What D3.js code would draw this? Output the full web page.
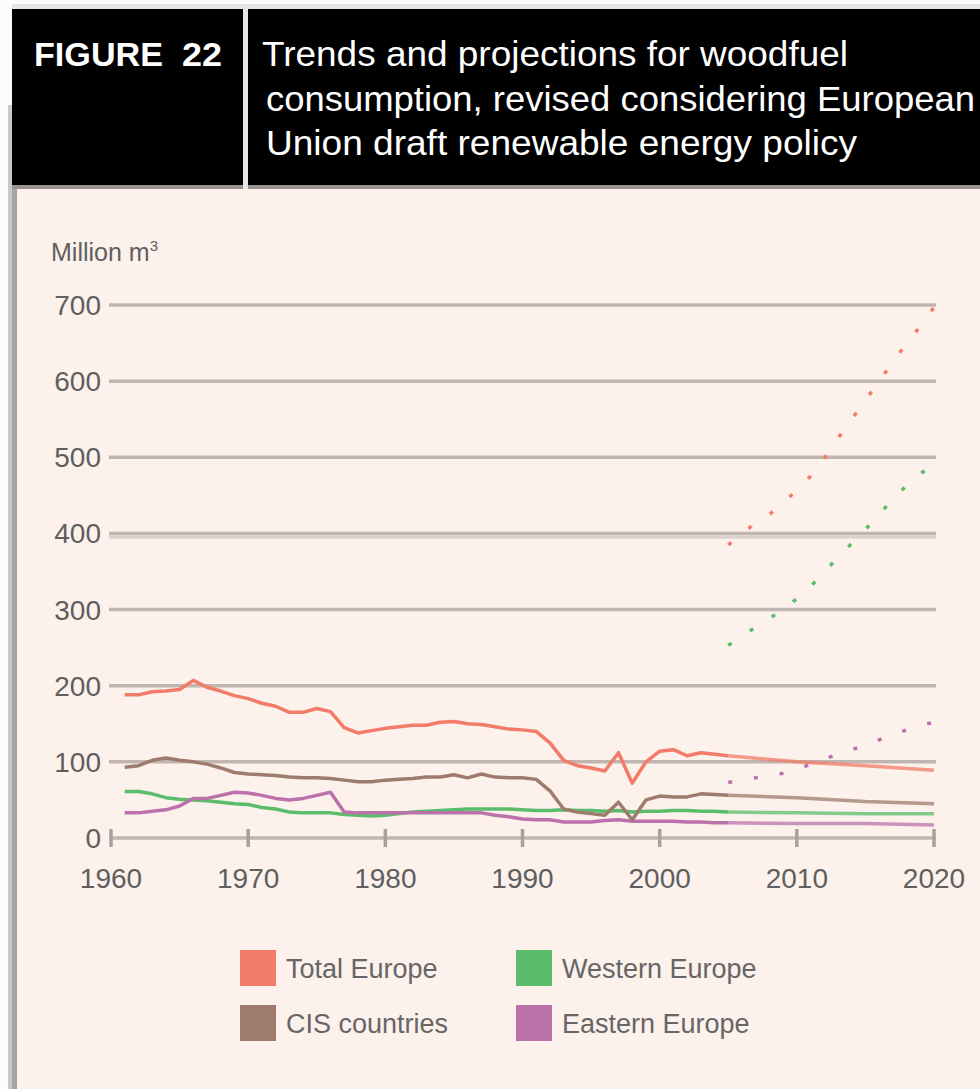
<!DOCTYPE html>
<html>
<head>
<meta charset="utf-8">
<script src="https://cdn.jsdelivr.net/npm/d3@7"></script>
<style>
  body { margin: 0; background: #fbfbfb; }
  svg { display: block; font-family: "Liberation Sans", Arial, sans-serif; }
</style>
</head>
<body>
<div class="chart"></div>
<script>
var svgWidth = 980;
var svgHeight = 1089;

// historical series, one value per year
var histYears = [1961,1962,1963,1964,1965,1966,1967,1968,1969,1970,
  1971,1972,1973,1974,1975,1976,1977,1978,1979,1980,
  1981,1982,1983,1984,1985,1986,1987,1988,1989,1990,
  1991,1992,1993,1994,1995,1996,1997,1998,1999,2000,
  2001,2002,2003,2004,2005];
var totalEurope = [188,188,192,193,195,207,198,193,187,183,
  177,173,165,165,170,166,145,138,141,144,
  146,148,148,152,153,150,149,146,143,142,
  140,125,102,95,92,88,112,72,100,114,
  116,108,112,110,108];
var cisCountries = [93,95,102,105,102,100,97,92,86,84,
  83,82,80,79,79,78,76,74,74,76,
  77,78,80,80,83,79,84,80,79,79,
  77,62,38,34,32,30,47,24,50,55,
  54,54,58,57,56];
var westernEurope = [61,61,58,53,51,50,49,47,45,44,
  40,38,34,33,33,33,31,30,29,30,
  32,34,35,36,37,38,38,38,38,37,
  36,36,37,36,36,35,36,34,35,35,
  36,36,35,35,34];
var easternEurope = [33,33,35,37,42,52,52,56,60,59,
  56,52,50,52,56,60,34,33,33,33,
  33,33,33,33,33,33,33,30,28,25,
  24,24,21,21,21,23,24,22,22,22,
  22,21,21,20,20];

// projections, baseline (solid)
var projYears = [2005, 2010, 2015, 2020];
var totalEuropeProj = [108, 100, 95, 89];
var cisCountriesProj = [56, 53, 48, 45];
var westernEuropeProj = [34, 33, 32, 32];
var easternEuropeProj = [20, 19, 19, 17];

// projections with the EU renewable energy policy (dotted)
var policyYears = [2005,2006,2007,2008,2009,2010,2011,2012,2013,2014,2015,2016,2017,2018,2019,2020];
var totalEuropePolicy = [385,398,415,425,440,457,475,498,525,550,575,600,625,650,672,697];
var westernEuropePolicy = [253,265,277,288,301,314,330,350,368,387,405,425,445,463,478,492];
var easternEuropePolicy = [73,76,79,82,85,90,97,104,110,116,122,129,136,142,148,152];

var yTicks = [0, 100, 200, 300, 400, 500, 600, 700];
var xTicks = [1960, 1970, 1980, 1990, 2000, 2010, 2020];

var legendNames = ["Total Europe", "Western Europe", "CIS countries", "Eastern Europe"];
var colors = {
  "Total Europe": "#f27b69",
  "Western Europe": "#5bbd6b",
  "CIS countries": "#9e7b6d",
  "Eastern Europe": "#bb72ab"
};

var svg = d3.select(".chart")
  .append("svg")
  .attr("width", svgWidth)
  .attr("height", svgHeight);

// frame and header
svg.append("rect").attr("x", 12).attr("y", 4).attr("width", 968).attr("height", 6).attr("fill", "#e6e6e6");
svg.append("rect").attr("x", 8).attr("y", 105).attr("width", 4).attr("height", 984).attr("fill", "#c9c9c9");
svg.append("rect").attr("x", 12).attr("y", 185).attr("width", 5).attr("height", 904).attr("fill", "#aaa29e");
svg.append("rect").attr("x", 17).attr("y", 189).attr("width", 963).attr("height", 900).attr("fill", "#fcf1eb");
svg.append("rect").attr("x", 12).attr("y", 9).attr("width", 968).attr("height", 176).attr("fill", "#000");
svg.append("rect").attr("x", 12).attr("y", 185).attr("width", 968).attr("height", 4).attr("fill", "#9b938f");
svg.append("rect").attr("x", 243).attr("y", 9).attr("width", 5).attr("height", 180).attr("fill", "#e6e6e6");

svg.append("text").attr("x", 34).attr("y", 66)
  .attr("fill", "#fff").attr("font-size", 34).attr("font-weight", "bold")
  .attr("textLength", 129).attr("lengthAdjust", "spacingAndGlyphs")
  .text("FIGURE");
svg.append("text").attr("x", 182).attr("y", 66)
  .attr("fill", "#fff").attr("font-size", 34).attr("font-weight", "bold")
  .attr("textLength", 40).attr("lengthAdjust", "spacingAndGlyphs")
  .text("22");

var titleLines = [
  { t: "Trends and projections for woodfuel", x: 262, y: 66, w: 586 },
  { t: "consumption, revised considering European", x: 266, y: 111, w: 709 },
  { t: "Union draft renewable energy policy", x: 266, y: 155, w: 591 }
];
svg.selectAll(".title-line")
  .data(titleLines)
  .enter()
  .append("text")
  .attr("class", "title-line")
  .attr("x", function(d) { return d.x; })
  .attr("y", function(d) { return d.y; })
  .attr("fill", "#fff")
  .attr("font-size", 35)
  .attr("textLength", function(d) { return d.w; })
  .attr("lengthAdjust", "spacingAndGlyphs")
  .text(function(d) { return d.t; });

// scales
var xScale = d3.scaleLinear().domain([1960, 2020]).range([111, 934]);
var yScale = d3.scaleLinear().domain([0, 700]).range([838, 305]);

var chart = svg.append("g");

// gridlines
chart.selectAll(".grid")
  .data(yTicks)
  .enter()
  .append("line")
  .attr("class", "grid")
  .attr("x1", 109)
  .attr("x2", 936)
  .attr("y1", function(d) { return yScale(d); })
  .attr("y2", function(d) { return yScale(d); })
  .attr("stroke", "#c0b5b0")
  .attr("stroke-width", 3.5);

// the 400 line looks doubled in the original
chart.append("line")
  .attr("x1", 109).attr("x2", 936)
  .attr("y1", yScale(400) + 3.5).attr("y2", yScale(400) + 3.5)
  .attr("stroke", "#ddd3ce").attr("stroke-width", 3.5);

// ticks on the x axis
chart.selectAll(".xtick")
  .data(xTicks)
  .enter()
  .append("line")
  .attr("class", "xtick")
  .attr("x1", function(d) { return xScale(d); })
  .attr("x2", function(d) { return xScale(d); })
  .attr("y1", 829)
  .attr("y2", 847)
  .attr("stroke", "#a8a09c")
  .attr("stroke-width", 3.5);

// axis labels
chart.selectAll(".ylabel")
  .data(yTicks)
  .enter()
  .append("text")
  .attr("class", "ylabel")
  .attr("x", 101)
  .attr("y", function(d) { return yScale(d) + 10; })
  .attr("text-anchor", "end")
  .attr("font-size", 28)
  .attr("fill", "#5f5f5f")
  .text(function(d) { return d; });

chart.selectAll(".xlabel")
  .data(xTicks)
  .enter()
  .append("text")
  .attr("class", "xlabel")
  .attr("x", function(d) { return xScale(d); })
  .attr("y", 888)
  .attr("text-anchor", "middle")
  .attr("font-size", 28)
  .attr("fill", "#5f5f5f")
  .text(function(d) { return d; });

var unit = chart.append("text")
  .attr("x", 51).attr("y", 261)
  .attr("font-size", 25)
  .attr("fill", "#5f5f5f");
unit.append("tspan").text("Million m");
unit.append("tspan").attr("font-size", 15).attr("dy", -10).text("3");

// lines
var line = d3.line()
  .x(function(d) { return xScale(d[0]); })
  .y(function(d) { return yScale(d[1]); });

function pairs(years, values) {
  return years.map(function(yr, i) { return [yr, values[i]]; });
}

var solidSeries = [
  { name: "Western Europe", pts: pairs(projYears, westernEuropeProj), o: 0.75 },
  { name: "Eastern Europe", pts: pairs(projYears, easternEuropeProj), o: 0.75 },
  { name: "CIS countries", pts: pairs(projYears, cisCountriesProj), o: 0.75 },
  { name: "Total Europe", pts: pairs(projYears, totalEuropeProj), o: 0.75 },
  { name: "Western Europe", pts: pairs(histYears, westernEurope), o: 1 },
  { name: "Eastern Europe", pts: pairs(histYears, easternEurope), o: 1 },
  { name: "CIS countries", pts: pairs(histYears, cisCountries), o: 1 },
  { name: "Total Europe", pts: pairs(histYears, totalEurope), o: 1 }
];

chart.selectAll(".series")
  .data(solidSeries)
  .enter()
  .append("path")
  .attr("class", "series")
  .attr("d", function(d) { return line(d.pts); })
  .attr("fill", "none")
  .attr("stroke", function(d) { return colors[d.name]; })
  .attr("stroke-opacity", function(d) { return d.o; })
  .attr("stroke-width", 3.5)
  .attr("stroke-linejoin", "round");

var dottedSeries = [
  { name: "Total Europe", pts: pairs(policyYears, totalEuropePolicy) },
  { name: "Western Europe", pts: pairs(policyYears, westernEuropePolicy) },
  { name: "Eastern Europe", pts: pairs(policyYears, easternEuropePolicy) }
];

chart.selectAll(".policy")
  .data(dottedSeries)
  .enter()
  .append("path")
  .attr("class", "policy")
  .attr("d", function(d) { return line(d.pts); })
  .attr("fill", "none")
  .attr("stroke", function(d) { return colors[d.name]; })
  .attr("stroke-width", 3.5)
  .attr("stroke-dasharray", "4,22");

// legend
var legendPos = [
  { x: 240, y: 950 }, { x: 516, y: 950 },
  { x: 240, y: 1005 }, { x: 516, y: 1005 }
];
var legend = svg.selectAll(".legend")
  .data(legendNames)
  .enter()
  .append("g")
  .attr("class", "legend")
  .attr("transform", function(d, i) { return "translate(" + legendPos[i].x + "," + legendPos[i].y + ")"; });

legend.append("rect")
  .attr("width", 36)
  .attr("height", 36)
  .attr("fill", function(d) { return colors[d]; });

legend.append("text")
  .attr("x", 46)
  .attr("y", 28)
  .attr("font-size", 27)
  .attr("fill", "#666")
  .text(function(d) { return d; });
</script>
</body>
</html>
